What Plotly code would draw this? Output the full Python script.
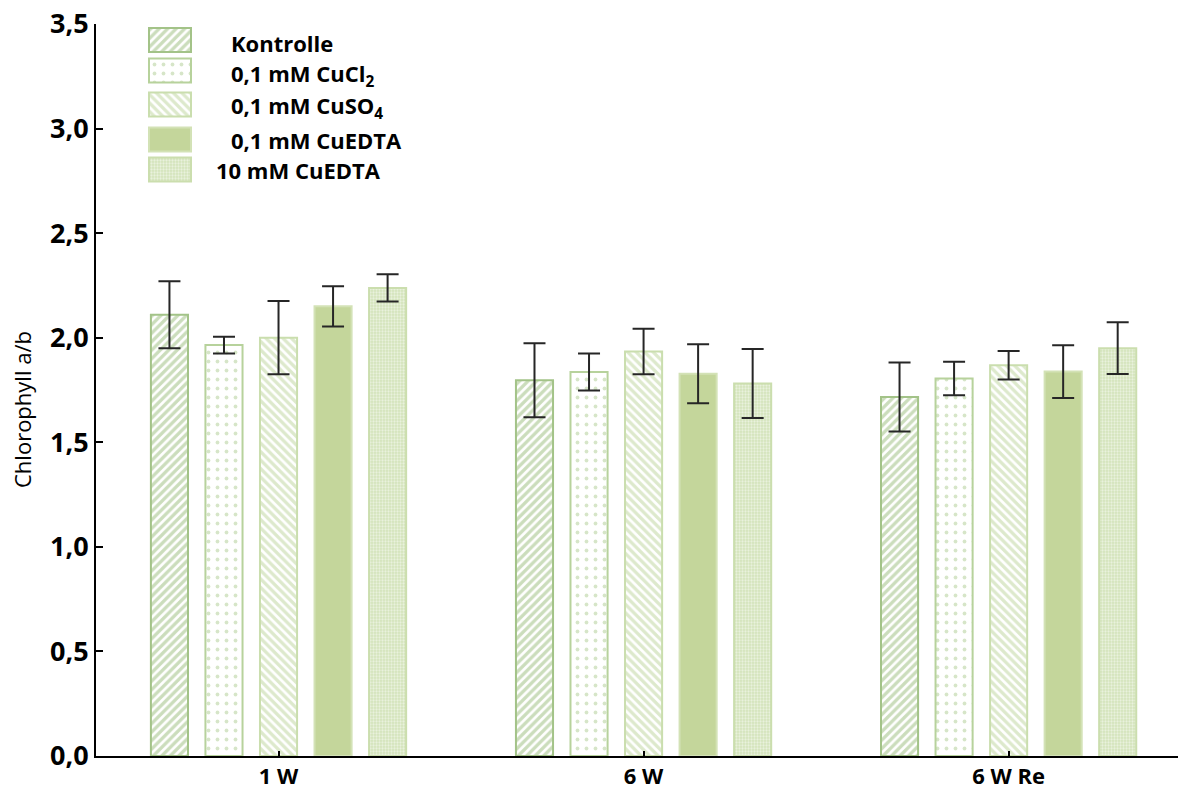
import plotly.graph_objects as go

# Sampling times and treatments
groups = ["1 W", "6 W", "6 W Re"]
treatments = [
    "Kontrolle",
    "0,1 mM CuCl<sub>2</sub>",
    "0,1 mM CuSO<sub>4</sub>",
    "0,1 mM CuEDTA",
    "10 mM CuEDTA",
]

# Chlorophyll a/b ratio (mean) per treatment, one value per sampling time
kontrolle = [2.11, 1.797, 1.717]
cucl2 = [1.965, 1.836, 1.805]
cuso4 = [2.00, 1.934, 1.868]
cuedta_01 = [2.15, 1.828, 1.838]
cuedta_10 = [2.238, 1.781, 1.950]

# Standard deviations
kontrolle_sd = [0.160, 0.177, 0.165]
cucl2_sd = [0.040, 0.088, 0.080]
cuso4_sd = [0.175, 0.109, 0.068]
cuedta_01_sd = [0.096, 0.141, 0.126]
cuedta_10_sd = [0.065, 0.165, 0.124]

y_ticks = [0.0, 0.5, 1.0, 1.5, 2.0, 2.5, 3.0, 3.5]

values = [kontrolle, cucl2, cuso4, cuedta_01, cuedta_10]
errors = [kontrolle_sd, cucl2_sd, cuso4_sd, cuedta_01_sd, cuedta_10_sd]

# Fill style for each treatment
styles = [
    dict(color="white", line=dict(color="#a3c388", width=2),
         pattern=dict(shape="/", fgcolor="#98bb79", bgcolor="white", size=6, solidity=0.55)),
    dict(color="white", line=dict(color="#b7d29c", width=2),
         pattern=dict(shape=".", fgcolor="#aecb92", bgcolor="white", size=9, solidity=0.14)),
    dict(color="white", line=dict(color="#cadeae", width=2),
         pattern=dict(shape="\\", fgcolor="#bcd49a", bgcolor="white", size=6, solidity=0.55)),
    dict(color="#c4d69b", line=dict(color="#d3e2b6", width=2)),
    dict(color="#d6e5bf", line=dict(color="#cbdeae", width=2),
         pattern=dict(shape=".", fgcolor="white", bgcolor="#d3e3ba", size=3, solidity=0.45)),
]

fig = go.Figure()

for name, vals, errs, st in zip(treatments, values, errors, styles):
    fig.add_trace(go.Bar(
        x=groups, y=vals, name=name, marker=st,
        error_y=dict(type="data", array=errs, visible=True,
                     color="#262626", thickness=2, width=11),
        showlegend=False,
    ))

# Legend drawn on an overlay axis measured in pixels
W, H = 1181, 792
L, R, T, B = 96, 3, 24, 36
legend_rows = [40, 70.5, 104.5, 139.5, 169.5]
legend_text_y = [43, 75, 107, 140, 170]
legend_text_x = [229, 229, 229, 229, 214]
swatch_left, swatch_len = 149, 42

for row, st in zip(legend_rows, styles):
    fig.add_trace(go.Bar(
        x=[swatch_len], y=[row], base=[swatch_left], orientation="h",
        width=24, marker=st, xaxis="x2", yaxis="y2",
        showlegend=False, hoverinfo="skip",
    ))

for name, tx, ty in zip(treatments, legend_text_x, legend_text_y):
    fig.add_annotation(
        x=tx, y=ty, xref="x2", yref="y2", text=name, showarrow=False,
        xanchor="left", yanchor="middle",
        font=dict(family="Open Sans", size=22, color="black", weight="bold"),
    )

fig.add_annotation(
    x=(22 - L) / (W - L - R), y=(H - B - 410) / (H - T - B),
    xref="paper", yref="paper", text="Chlorophyll a/b", textangle=-90,
    showarrow=False, xanchor="center", yanchor="middle",
    font=dict(family="Open Sans", size=22, color="black"),
)

fig.update_layout(
    width=W, height=H,
    margin=dict(l=L, r=R, t=T, b=B, autoexpand=False),
    paper_bgcolor="white", plot_bgcolor="white",
    separators=", ",
    barmode="group", bargap=0.253, bargroupgap=0.32,
    xaxis=dict(
        range=[-0.5, 2.464], showgrid=False, zeroline=False, automargin=False,
        showline=True, linecolor="black", linewidth=2,
        ticks="inside", ticklen=5, tickcolor="black", tickwidth=1.5,
        tickfont=dict(family="Open Sans", size=22, color="black", weight="bold"),
    ),
    yaxis=dict(
        range=[0, 3.5], tickvals=y_ticks, tickformat=".1f",
        showgrid=False, zeroline=False, automargin=False,
        showline=True, linecolor="black", linewidth=2,
        ticks="inside", ticklen=7, tickcolor="black", tickwidth=1.5,
        tickfont=dict(family="Open Sans", size=27, color="black", weight="bold"),
    ),
    xaxis2=dict(range=[L, W - R], overlaying="x", visible=False, fixedrange=True),
    yaxis2=dict(range=[H - B, T], overlaying="y", visible=False, fixedrange=True),
)

fig.write_html("out.html")
